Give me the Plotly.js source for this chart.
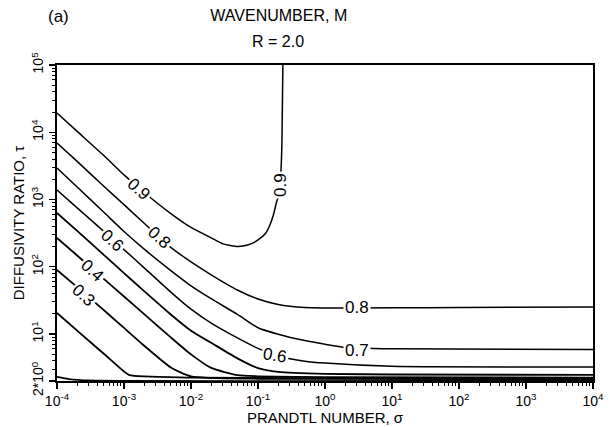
<!DOCTYPE html>
<html>
<head>
<meta charset="utf-8">
<script src="https://cdn.plot.ly/plotly-3.0.1.min.js"></script>
<style>html,body{margin:0;padding:0;background:#fff;}#chart{width:610px;height:427px;}</style>
</head>
<body>
<div id="chart"></div>
<script>
// Contour levels of wavenumber M, R = 2.0
const sigma09 = [1e-4, 2e-4, 5e-4, 1e-3, 2e-3, 5e-3, 1e-2, 2e-2, 3e-2, 5e-2, 7e-2, 0.1, 0.13, 0.15, 0.17, 0.19, 0.2, 0.21, 0.22, 0.228, 0.235];
const tau09   = [19300, 10300, 4500, 2320, 1270, 617, 384, 269, 219, 200, 210, 250, 315, 413, 592, 933, 1090, 1700, 2650, 7670, 100000];

const sigma08 = [1e-4, 2e-4, 5e-4, 1e-3, 2e-3, 5e-3, 1e-2, 2e-2, 5e-2, 0.1, 0.2, 0.5, 1, 10, 100, 1e4];
const tau08   = [6920, 3690, 1570, 838, 443, 194, 118, 75.9, 44.7, 33.1, 27.4, 24.7, 24.4, 24.5, 24.8, 25.2];

const sigma07 = [1e-4, 2e-4, 5e-4, 1e-3, 2e-3, 5e-3, 1e-2, 2e-2, 5e-2, 0.1, 0.2, 0.5, 1, 2, 10, 1e4];
const tau07   = [2940, 1530, 646, 334, 183, 87.7, 52.1, 33.5, 19.4, 12.4, 9.93, 7.98, 7.03, 6.31, 6.03, 5.88];

const sigma06 = [1e-4, 2e-4, 5e-4, 1e-3, 2e-3, 5e-3, 1e-2, 2e-2, 5e-2, 0.1, 0.2, 0.5, 1, 10, 1e4];
const tau06   = [1380, 750, 336, 180, 96.4, 42.0, 23.4, 14.5, 8.67, 6.11, 4.72, 3.94, 3.69, 3.30, 3.23];

const sigma05 = [1e-4, 2e-4, 5e-4, 1e-3, 2e-3, 5e-3, 1e-2, 2e-2, 5e-2, 0.1, 0.2, 1, 10, 1e4];
const tau05   = [630, 341, 150, 80.5, 43.4, 19.5, 11.2, 7.40, 4.31, 3.11, 2.74, 2.56, 2.50, 2.46];

const sigma04 = [1e-4, 2e-4, 5e-4, 1e-3, 2e-3, 5e-3, 1e-2, 2e-2, 5e-2, 0.1, 1, 1e4];
const tau04   = [268, 147, 65.9, 36.1, 19.7, 8.89, 4.98, 3.13, 2.44, 2.35, 2.28, 2.25];

const sigma03 = [1e-4, 2e-4, 5e-4, 1e-3, 2e-3, 5e-3, 1e-2, 0.1, 1e4];
const tau03   = [89.6, 49.7, 22.6, 12.3, 6.70, 3.18, 2.34, 2.16, 2.14];

const sigma02 = [1e-4, 2e-4, 5e-4, 1e-3, 1.2e-3, 1e-2, 1e4];
const tau02   = [20.5, 11.2, 5.08, 2.77, 2.45, 2.25, 2.07];

const sigma01 = [1e-4, 1.5e-4, 3e-4, 1e4];
const tau01   = [2.30, 2.14, 2.04, 2.03];

// Contour labels: text, sigma, tau, angle
const labelText  = ["0.9", "0.8", "0.6", "0.4", "0.3", "0.9", "0.8", "0.7", "0.6"];
const labelSigma = [1.68e-3, 3.33e-3, 6.62e-4, 3.33e-4, 2.53e-4, 0.213, 3.0, 3.0, 0.18];
const labelTau   = [1430, 268, 242, 86.5, 38.0, 1640, 24.4, 5.78, 4.71];
const labelAngle = [42, 42, 42, 42, 42, -90, 0, 0, 9];

// Axis ticks
const xTickVals = [1e-4, 1e-3, 1e-2, 1e-1, 1, 10, 100, 1000, 1e4];
const xTickText = ["10<sup>-4</sup>", "10<sup>-3</sup>", "10<sup>-2</sup>", "10<sup>-1</sup>", "10<sup>0</sup>", "10<sup>1</sup>", "10<sup>2</sup>", "10<sup>3</sup>", "10<sup>4</sup>"];
const yTickVals = [2, 10, 100, 1000, 1e4, 1e5];
const yTickText = ["2*10<sup>0</sup>", "10<sup>1</sup>", "10<sup>2</sup>", "10<sup>3</sup>", "10<sup>4</sup>", "10<sup>5</sup>"];

function minorVals(lo, hi) {
  const v = [];
  for (let e = lo; e < hi; e++) for (let m = 2; m <= 9; m++) v.push(m * Math.pow(10, e));
  return v;
}

const series = [
  [sigma09, tau09], [sigma08, tau08], [sigma07, tau07], [sigma06, tau06],
  [sigma05, tau05], [sigma04, tau04], [sigma03, tau03], [sigma02, tau02], [sigma01, tau01]
];
const names = ["M = 0.9", "M = 0.8", "M = 0.7", "M = 0.6", "M = 0.5", "M = 0.4", "M = 0.3", "M = 0.2", "M = 0.1"];

const traces = series.map((s, i) => ({
  type: "scatter", mode: "lines", x: s[0], y: s[1], name: names[i],
  line: {color: "#000", width: i >= 4 ? 1.8 : 1.5, shape: "spline", smoothing: 0.6},
  hoverinfo: "x+y+name"
}));

const FONT = "Liberation Sans, Arial, Helvetica, sans-serif";

const annotations = labelText.map((t, i) => ({
  x: Math.log10(labelSigma[i]), y: Math.log10(labelTau[i]), xref: "x", yref: "y",
  text: t, showarrow: false, textangle: labelAngle[i],
  font: {family: FONT, size: 17, color: "#000"},
  bgcolor: "#fff", borderpad: 1
}));
annotations.push({
  xref: "paper", yref: "paper", x: 0.412, y: 1.073, text: "R = 2.0", showarrow: false,
  font: {family: FONT, size: 16, color: "#000"}, xanchor: "center", yanchor: "middle"
});
annotations.push({
  xref: "paper", yref: "paper", x: 0.002, y: 1.152, text: "(a)", showarrow: false,
  font: {family: FONT, size: 17, color: "#000"}, xanchor: "center", yanchor: "middle"
});

const layout = {
  width: 610, height: 427,
  margin: {l: 57, r: 17, t: 65, b: 46, pad: 0},
  paper_bgcolor: "#fff", plot_bgcolor: "#fff",
  showlegend: false,
  font: {family: FONT, size: 14, color: "#000"},
  title: {
    text: "WAVENUMBER, M", xref: "container", yref: "container",
    x: 0.457, y: 0.965, xanchor: "center", yanchor: "middle",
    font: {family: FONT, size: 16, color: "#000"}
  },
  xaxis: {
    type: "log", range: [-4, 4], autorange: false,
    tickmode: "array", tickvals: xTickVals, ticktext: xTickText,
    ticks: "outside", ticklen: 6, tickwidth: 1.2, tickcolor: "#000",
    minor: {tickmode: "array", tickvals: minorVals(-4, 4), ticks: "outside", ticklen: 3, tickwidth: 1, tickcolor: "#000", showgrid: false},
    showline: true, linecolor: "#000", linewidth: 2, mirror: true,
    showgrid: false, zeroline: false,
    tickfont: {family: FONT, size: 14, color: "#000"},
    title: {text: "PRANDTL NUMBER, σ", font: {family: FONT, size: 15, color: "#000"}, standoff: 2}
  },
  yaxis: {
    type: "log", range: [Math.log10(2), 5], autorange: false,
    tickmode: "array", tickvals: yTickVals, ticktext: yTickText, tickangle: -90,
    ticks: "outside", ticklen: 6, tickwidth: 1.2, tickcolor: "#000",
    minor: {tickmode: "array", tickvals: minorVals(0, 5).filter(v => v > 2), ticks: "outside", ticklen: 3, tickwidth: 1, tickcolor: "#000", showgrid: false},
    showline: true, linecolor: "#000", linewidth: 2, mirror: true,
    showgrid: false, zeroline: false,
    tickfont: {family: FONT, size: 14, color: "#000"},
    title: {text: "DIFFUSIVITY RATIO, τ", font: {family: FONT, size: 15, color: "#000"}, standoff: 0}
  },
  annotations: annotations
};

Plotly.newPlot("chart", traces, layout, {displayModeBar: false, staticPlot: true});
</script>
</body>
</html>
